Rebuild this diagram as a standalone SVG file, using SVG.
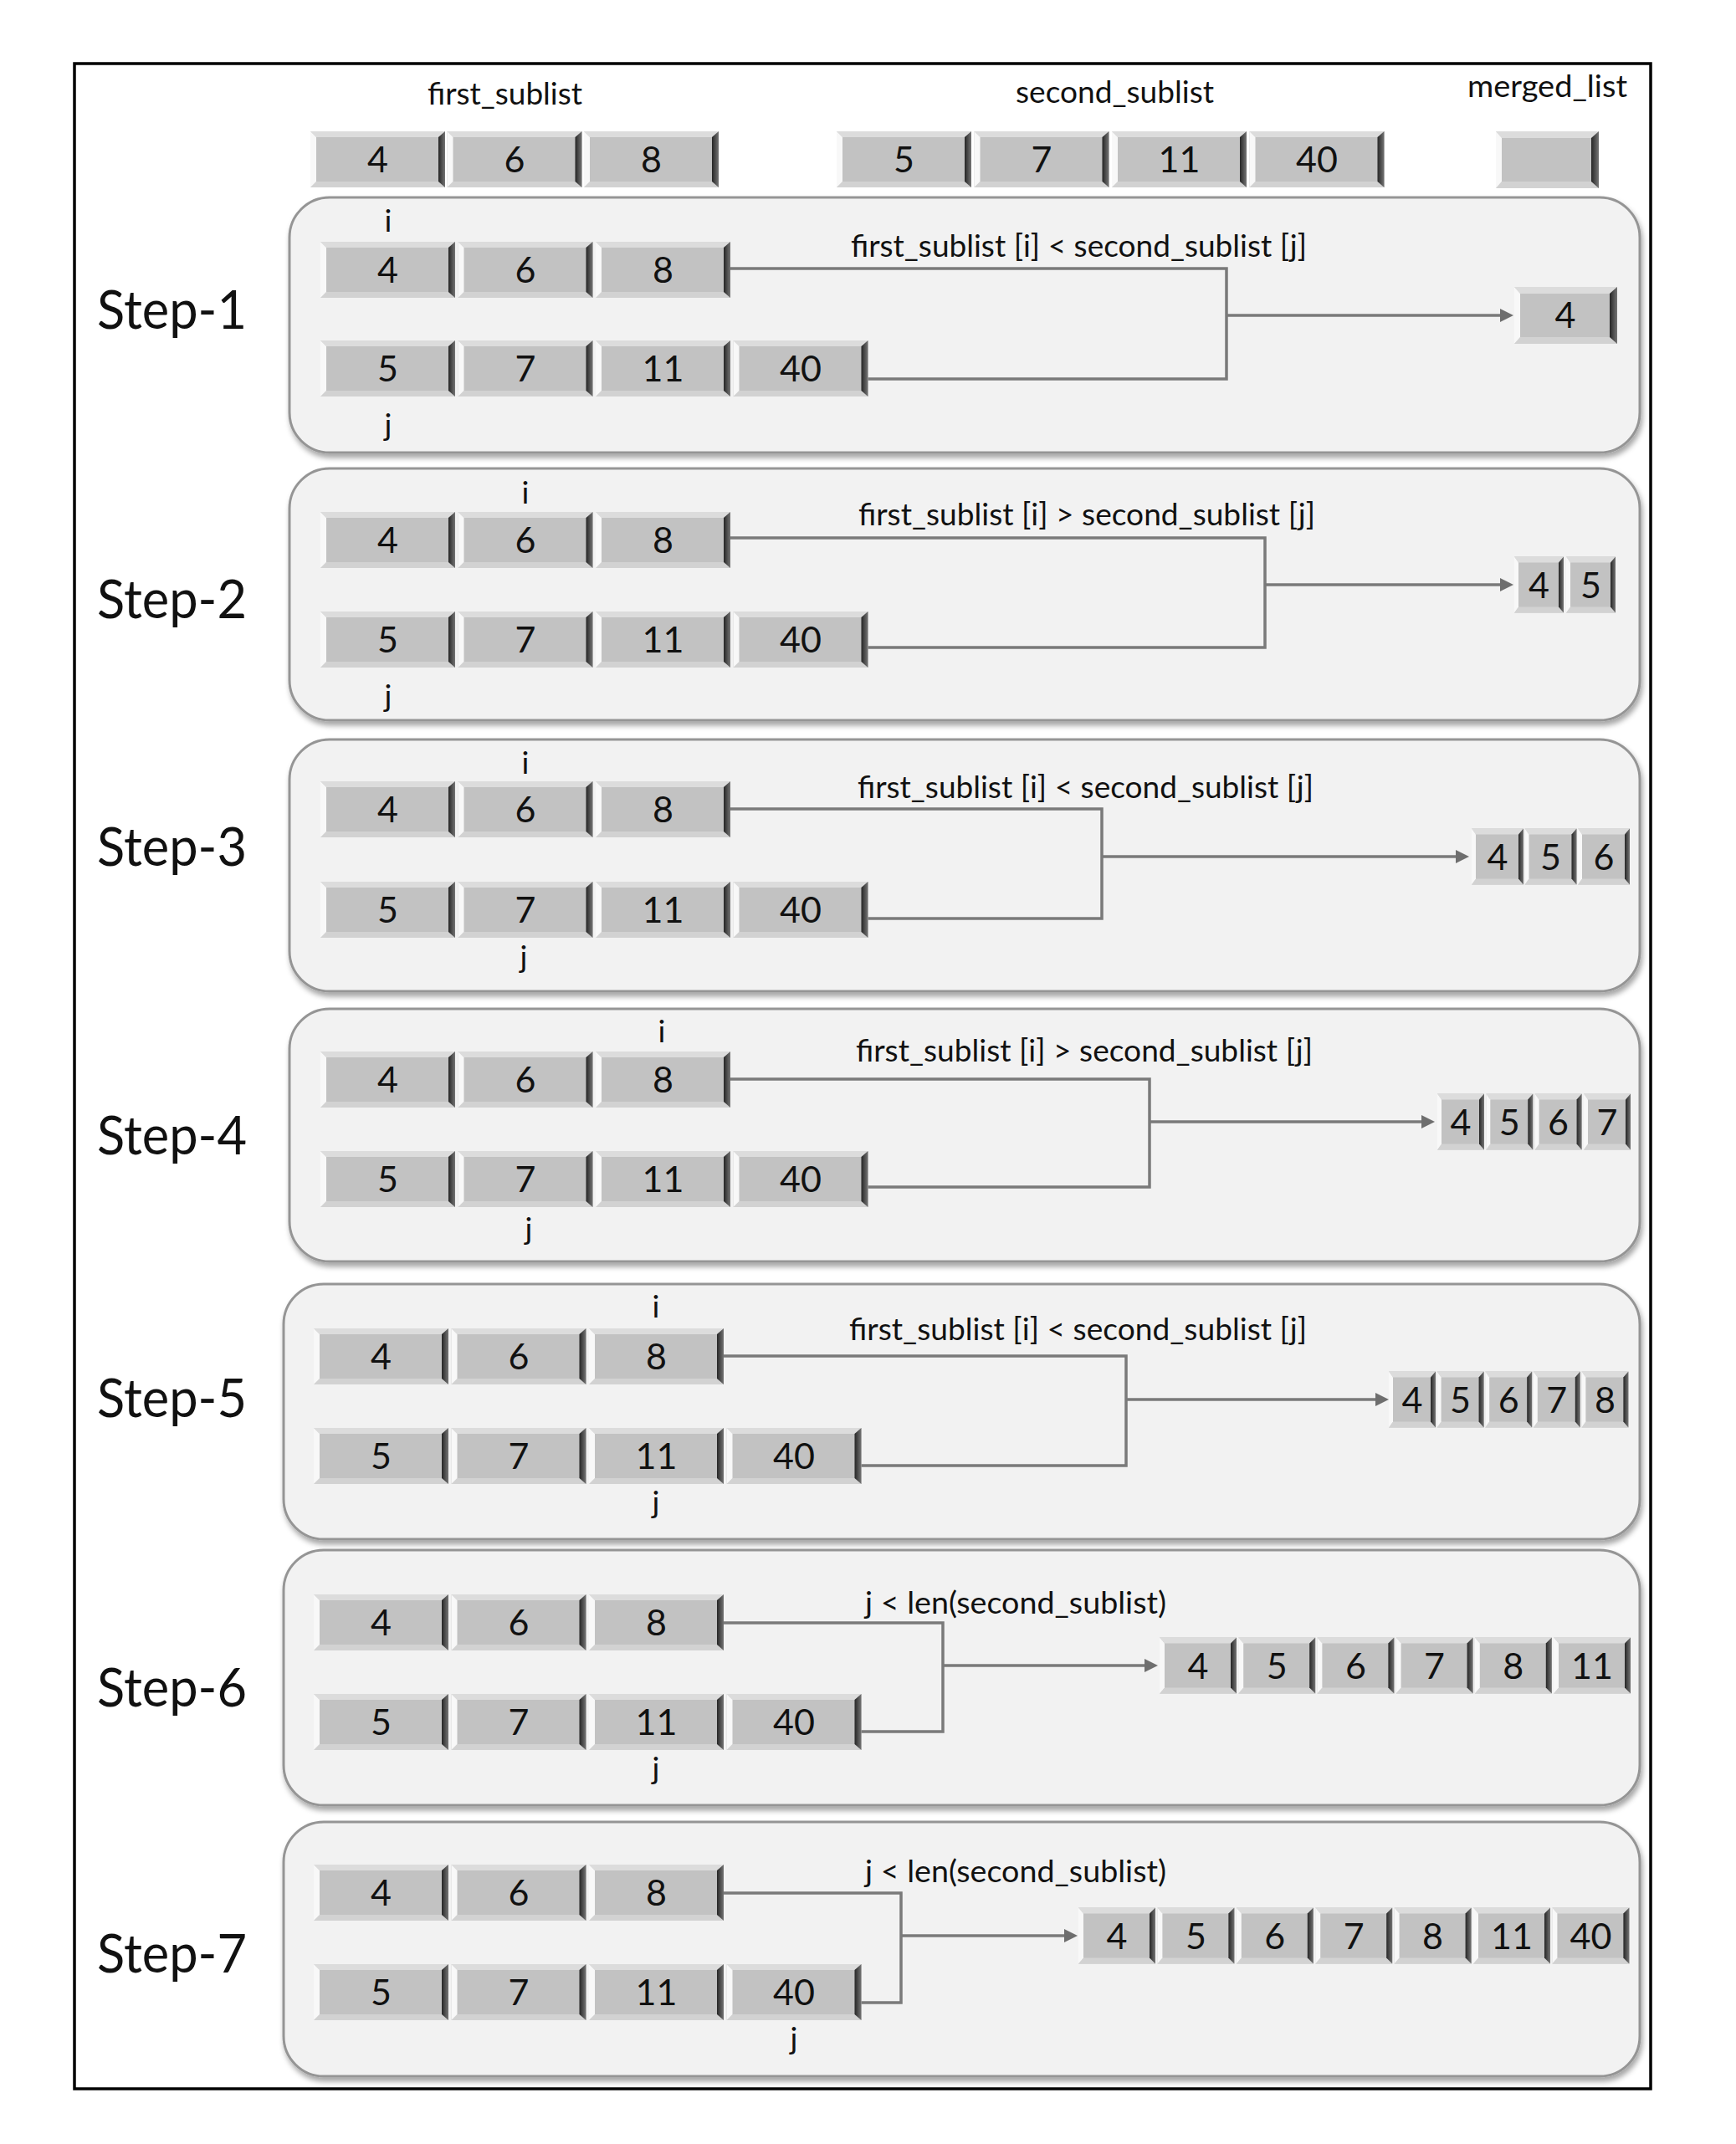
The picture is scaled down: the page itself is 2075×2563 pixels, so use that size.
<svg xmlns="http://www.w3.org/2000/svg" xmlns:xlink="http://www.w3.org/1999/xlink" width="2075" height="2563" viewBox="0 0 2075 2563">
<style>
text{font-family:Lato,"Open Sans","Liberation Sans",sans-serif;fill:#111}
.n{font-size:43px;text-anchor:middle}
.lbl{font-size:37px}
.step{font-size:64px}
.ij{font-size:37px;text-anchor:middle}
.face{fill:#c2c2c2}
.bt{fill:#dcdcdc}
.bb{fill:#d2d2d2}
.bl{fill:#f8f8f8}
.br{fill:url(#rg)}
.panel{fill:#f2f2f2;stroke:#959595;stroke-width:3;filter:url(#sh)}
.con{fill:none;stroke:#7a7a7a;stroke-width:3.5}
.arr{fill:none;stroke:#7a7a7a;stroke-width:3.5;marker-end:url(#ah)}
</style>
<defs>
<linearGradient id="rg" x1="0" y1="0" x2="1" y2="0">
<stop offset="0" stop-color="#262626"/><stop offset="1" stop-color="#747474"/>
</linearGradient>
<filter id="sh" x="-2%" y="-5%" width="104%" height="115%">
<feDropShadow dx="2" dy="5" stdDeviation="3" flood-color="#000" flood-opacity="0.35"/>
</filter>
<marker id="ah" viewBox="0 0 16 16" refX="10" refY="8" markerWidth="16" markerHeight="16" markerUnits="userSpaceOnUse" orient="auto">
<path d="M0,0 L16,8 L0,16 Z" fill="#6e6e6e"/>
</marker>
<g id="bx161"><rect class="face" width="161" height="67"/><polygon class="bt" points="0,0 161,0 153,7 7,7"/><polygon class="bb" points="0,67 161,67 153,60 7,60"/><polygon class="bl" points="0,0 7,7 7,60 0,67"/><polygon class="br" points="161,0 161,67 153,60 153,7"/></g>
<g id="bx123"><rect class="face" width="123" height="68"/><polygon class="bt" points="0,0 123,0 114,8 7,8"/><polygon class="bb" points="0,68 123,68 114,60 7,60"/><polygon class="bl" points="0,0 7,8 7,60 0,68"/><polygon class="br" points="123,0 123,68 114,60 114,8"/></g>
<g id="bx59"><rect class="face" width="59" height="67"/><polygon class="bt" points="0,0 59,0 53,7 5,7"/><polygon class="bb" points="0,67 59,67 53,60 5,60"/><polygon class="bl" points="0,0 5,7 5,60 0,67"/><polygon class="br" points="59,0 59,67 53,60 53,7"/></g>
<g id="bx62"><rect class="face" width="62" height="67"/><polygon class="bt" points="0,0 62,0 56,7 5,7"/><polygon class="bb" points="0,67 62,67 56,60 5,60"/><polygon class="bl" points="0,0 5,7 5,60 0,67"/><polygon class="br" points="62,0 62,67 56,60 56,7"/></g>
<g id="bx56"><rect class="face" width="56" height="67"/><polygon class="bt" points="0,0 56,0 50,7 5,7"/><polygon class="bb" points="0,67 56,67 50,60 5,60"/><polygon class="bl" points="0,0 5,7 5,60 0,67"/><polygon class="br" points="56,0 56,67 50,60 50,7"/></g>
<g id="bx92"><rect class="face" width="92" height="67"/><polygon class="bt" points="0,0 92,0 85,7 6,7"/><polygon class="bb" points="0,67 92,67 85,60 6,60"/><polygon class="bl" points="0,0 6,7 6,60 0,67"/><polygon class="br" points="92,0 92,67 85,60 85,7"/></g>
</defs>
<rect width="2075" height="2563" fill="#ffffff"/>
<rect id="frame" x="89" y="76" width="1884" height="2421" fill="none" stroke="#000" stroke-width="3.5"/>

<g id="header">
<text class="lbl" x="511" y="125" textLength="185" lengthAdjust="spacingAndGlyphs">first_sublist</text>
<text class="lbl" x="1214" y="123" textLength="237" lengthAdjust="spacingAndGlyphs">second_sublist</text>
<text class="lbl" x="1754" y="116" textLength="191" lengthAdjust="spacingAndGlyphs">merged_list</text>
<g id="hdr-first">
<use href="#bx161" x="371" y="157"/><use href="#bx161" x="534.5" y="157"/><use href="#bx161" x="698" y="157"/>
<text class="n" x="451.5" y="206">4</text><text class="n" x="615" y="206">6</text><text class="n" x="778.5" y="206">8</text>
</g>
<g id="hdr-second">
<use href="#bx161" x="1000" y="157"/><use href="#bx161" x="1164.5" y="157"/><use href="#bx161" x="1329" y="157"/><use href="#bx161" x="1493.5" y="157"/>
<text class="n" x="1080.5" y="206">5</text><text class="n" x="1245" y="206">7</text><text class="n" x="1409.5" y="206">11</text><text class="n" x="1574" y="206">40</text>
</g>
<g id="hdr-merged"><use href="#bx123" x="1788" y="157"/></g>
</g>

<g id="step1">
<rect class="panel" x="346" y="236" width="1614" height="305" rx="48"/>
<text class="step" x="116" y="393" textLength="179" lengthAdjust="spacingAndGlyphs">Step-1</text>
<use href="#bx161" x="383" y="289"/><use href="#bx161" x="547.5" y="289"/><use href="#bx161" x="712" y="289"/>
<text class="n" x="463.5" y="338">4</text><text class="n" x="628" y="338">6</text><text class="n" x="792.5" y="338">8</text>
<use href="#bx161" x="383" y="407"/><use href="#bx161" x="547.5" y="407"/><use href="#bx161" x="712" y="407"/><use href="#bx161" x="876.5" y="407"/>
<text class="n" x="463.5" y="456">5</text><text class="n" x="628" y="456">7</text><text class="n" x="792.5" y="456">11</text><text class="n" x="957" y="456">40</text>
<text class="ij" x="464" y="277">i</text><text class="ij" x="464" y="521">j</text>
<text class="lbl" x="1017" y="307" textLength="545" lengthAdjust="spacingAndGlyphs">first_sublist [i] &lt; second_sublist [j]</text>
<use href="#bx123" x="1810" y="343"/>
<text class="n" x="1871" y="392">4</text>
</g>

<g id="step2">
<rect class="panel" x="346" y="560" width="1614" height="301" rx="48"/>
<text class="step" x="116" y="739" textLength="179" lengthAdjust="spacingAndGlyphs">Step-2</text>
<use href="#bx161" x="383" y="612"/><use href="#bx161" x="547.5" y="612"/><use href="#bx161" x="712" y="612"/>
<text class="n" x="463.5" y="661">4</text><text class="n" x="628" y="661">6</text><text class="n" x="792.5" y="661">8</text>
<use href="#bx161" x="383" y="731"/><use href="#bx161" x="547.5" y="731"/><use href="#bx161" x="712" y="731"/><use href="#bx161" x="876.5" y="731"/>
<text class="n" x="463.5" y="780">5</text><text class="n" x="628" y="780">7</text><text class="n" x="792.5" y="780">11</text><text class="n" x="957" y="780">40</text>
<text class="ij" x="628" y="602">i</text><text class="ij" x="464" y="845">j</text>
<text class="lbl" x="1026" y="628" textLength="546" lengthAdjust="spacingAndGlyphs">first_sublist [i] &gt; second_sublist [j]</text>
<use href="#bx59" x="1810" y="665.5"/><use href="#bx59" x="1872" y="665.5"/>
<text class="n" x="1839.5" y="714.5">4</text><text class="n" x="1901.5" y="714.5">5</text>
</g>

<g id="step3">
<rect class="panel" x="346" y="884" width="1614" height="301" rx="48"/>
<text class="step" x="116" y="1035" textLength="179" lengthAdjust="spacingAndGlyphs">Step-3</text>
<use href="#bx161" x="383" y="934"/><use href="#bx161" x="547.5" y="934"/><use href="#bx161" x="712" y="934"/>
<text class="n" x="463.5" y="983">4</text><text class="n" x="628" y="983">6</text><text class="n" x="792.5" y="983">8</text>
<use href="#bx161" x="383" y="1054"/><use href="#bx161" x="547.5" y="1054"/><use href="#bx161" x="712" y="1054"/><use href="#bx161" x="876.5" y="1054"/>
<text class="n" x="463.5" y="1103">5</text><text class="n" x="628" y="1103">7</text><text class="n" x="792.5" y="1103">11</text><text class="n" x="957" y="1103">40</text>
<text class="ij" x="628" y="925">i</text><text class="ij" x="626" y="1157">j</text>
<text class="lbl" x="1025" y="954" textLength="545" lengthAdjust="spacingAndGlyphs">first_sublist [i] &lt; second_sublist [j]</text>
<use href="#bx62" x="1759" y="990.5"/><use href="#bx62" x="1822.5" y="990.5"/><use href="#bx62" x="1886" y="990.5"/>
<text class="n" x="1790" y="1039.5">4</text><text class="n" x="1853.5" y="1039.5">5</text><text class="n" x="1917" y="1039.5">6</text>
</g>

<g id="step4">
<rect class="panel" x="346" y="1206" width="1614" height="302" rx="48"/>
<text class="step" x="116" y="1380" textLength="179" lengthAdjust="spacingAndGlyphs">Step-4</text>
<use href="#bx161" x="383" y="1257"/><use href="#bx161" x="547.5" y="1257"/><use href="#bx161" x="712" y="1257"/>
<text class="n" x="463.5" y="1306">4</text><text class="n" x="628" y="1306">6</text><text class="n" x="792.5" y="1306">8</text>
<use href="#bx161" x="383" y="1376"/><use href="#bx161" x="547.5" y="1376"/><use href="#bx161" x="712" y="1376"/><use href="#bx161" x="876.5" y="1376"/>
<text class="n" x="463.5" y="1425">5</text><text class="n" x="628" y="1425">7</text><text class="n" x="792.5" y="1425">11</text><text class="n" x="957" y="1425">40</text>
<text class="ij" x="791" y="1246">i</text><text class="ij" x="632" y="1482">j</text>
<text class="lbl" x="1023" y="1269" textLength="546" lengthAdjust="spacingAndGlyphs">first_sublist [i] &gt; second_sublist [j]</text>
<use href="#bx56" x="1718" y="1307.5"/><use href="#bx56" x="1776.3" y="1307.5"/><use href="#bx56" x="1834.6" y="1307.5"/><use href="#bx56" x="1893" y="1307.5"/>
<text class="n" x="1746" y="1356.5">4</text><text class="n" x="1804.3" y="1356.5">5</text><text class="n" x="1862.6" y="1356.5">6</text><text class="n" x="1921" y="1356.5">7</text>
</g>

<g id="step5">
<rect class="panel" x="339" y="1535" width="1621" height="305" rx="48"/>
<text class="step" x="116" y="1694" textLength="179" lengthAdjust="spacingAndGlyphs">Step-5</text>
<use href="#bx161" x="375" y="1588"/><use href="#bx161" x="539.5" y="1588"/><use href="#bx161" x="704" y="1588"/>
<text class="n" x="455.5" y="1637">4</text><text class="n" x="620" y="1637">6</text><text class="n" x="784.5" y="1637">8</text>
<use href="#bx161" x="375" y="1707"/><use href="#bx161" x="539.5" y="1707"/><use href="#bx161" x="704" y="1707"/><use href="#bx161" x="868.5" y="1707"/>
<text class="n" x="455.5" y="1756">5</text><text class="n" x="620" y="1756">7</text><text class="n" x="784.5" y="1756">11</text><text class="n" x="949" y="1756">40</text>
<text class="ij" x="784" y="1575">i</text><text class="ij" x="784" y="1809">j</text>
<text class="lbl" x="1015" y="1602" textLength="547" lengthAdjust="spacingAndGlyphs">first_sublist [i] &lt; second_sublist [j]</text>
<use href="#bx56" x="1660" y="1639.5"/><use href="#bx56" x="1717.6" y="1639.5"/><use href="#bx56" x="1775.2" y="1639.5"/><use href="#bx56" x="1832.8" y="1639.5"/><use href="#bx56" x="1890.4" y="1639.5"/>
<text class="n" x="1688" y="1688.5">4</text><text class="n" x="1745.6" y="1688.5">5</text><text class="n" x="1803.2" y="1688.5">6</text><text class="n" x="1860.8" y="1688.5">7</text><text class="n" x="1918.4" y="1688.5">8</text>
</g>

<g id="step6">
<rect class="panel" x="339" y="1853" width="1621" height="305" rx="48"/>
<text class="step" x="116" y="2040" textLength="179" lengthAdjust="spacingAndGlyphs">Step-6</text>
<use href="#bx161" x="375" y="1906"/><use href="#bx161" x="539.5" y="1906"/><use href="#bx161" x="704" y="1906"/>
<text class="n" x="455.5" y="1955">4</text><text class="n" x="620" y="1955">6</text><text class="n" x="784.5" y="1955">8</text>
<use href="#bx161" x="375" y="2025"/><use href="#bx161" x="539.5" y="2025"/><use href="#bx161" x="704" y="2025"/><use href="#bx161" x="868.5" y="2025"/>
<text class="n" x="455.5" y="2074">5</text><text class="n" x="620" y="2074">7</text><text class="n" x="784.5" y="2074">11</text><text class="n" x="949" y="2074">40</text>
<text class="ij" x="784" y="2127">j</text>
<text class="lbl" x="1034" y="1929" textLength="360" lengthAdjust="spacingAndGlyphs">j &lt; len(second_sublist)</text>
<use href="#bx92" x="1386" y="1957.5"/><use href="#bx92" x="1480.2" y="1957.5"/><use href="#bx92" x="1574.4" y="1957.5"/><use href="#bx92" x="1668.6" y="1957.5"/><use href="#bx92" x="1762.8" y="1957.5"/><use href="#bx92" x="1857" y="1957.5"/>
<text class="n" x="1432" y="2006.5">4</text><text class="n" x="1526.2" y="2006.5">5</text><text class="n" x="1620.4" y="2006.5">6</text><text class="n" x="1714.6" y="2006.5">7</text><text class="n" x="1808.8" y="2006.5">8</text><text class="n" x="1903" y="2006.5">11</text>
</g>

<g id="step7">
<rect class="panel" x="339" y="2178" width="1621" height="304" rx="48"/>
<text class="step" x="116" y="2358" textLength="179" lengthAdjust="spacingAndGlyphs">Step-7</text>
<use href="#bx161" x="375" y="2229"/><use href="#bx161" x="539.5" y="2229"/><use href="#bx161" x="704" y="2229"/>
<text class="n" x="455.5" y="2278">4</text><text class="n" x="620" y="2278">6</text><text class="n" x="784.5" y="2278">8</text>
<use href="#bx161" x="375" y="2348"/><use href="#bx161" x="539.5" y="2348"/><use href="#bx161" x="704" y="2348"/><use href="#bx161" x="868.5" y="2348"/>
<text class="n" x="455.5" y="2397">5</text><text class="n" x="620" y="2397">7</text><text class="n" x="784.5" y="2397">11</text><text class="n" x="949" y="2397">40</text>
<text class="ij" x="949" y="2450">j</text>
<text class="lbl" x="1034" y="2250" textLength="360" lengthAdjust="spacingAndGlyphs">j &lt; len(second_sublist)</text>
<use href="#bx92" x="1289" y="2280.5"/><use href="#bx92" x="1383.4" y="2280.5"/><use href="#bx92" x="1477.8" y="2280.5"/><use href="#bx92" x="1572.2" y="2280.5"/><use href="#bx92" x="1666.6" y="2280.5"/><use href="#bx92" x="1761" y="2280.5"/><use href="#bx92" x="1855.4" y="2280.5"/>
<text class="n" x="1335" y="2329.5">4</text><text class="n" x="1429.4" y="2329.5">5</text><text class="n" x="1523.8" y="2329.5">6</text><text class="n" x="1618.2" y="2329.5">7</text><text class="n" x="1712.6" y="2329.5">8</text><text class="n" x="1807" y="2329.5">11</text><text class="n" x="1901.4" y="2329.5">40</text>
</g>

<g id="connectors">
<path class="con" d="M873,321 H1466 V453 H1037.5"/>
<path class="arr" d="M1466,377 H1803"/>
<path class="con" d="M873,643 H1512 V774 H1037.5"/>
<path class="arr" d="M1512,699 H1803"/>
<path class="con" d="M873,967 H1317 V1098 H1037.5"/>
<path class="arr" d="M1317,1024 H1750"/>
<path class="con" d="M873,1290 H1374 V1419 H1037.5"/>
<path class="arr" d="M1374,1341 H1709"/>
<path class="con" d="M865,1621 H1346 V1752 H1029.5"/>
<path class="arr" d="M1346,1673 H1654"/>
<path class="con" d="M865,1940 H1127 V2070 H1029.5"/>
<path class="arr" d="M1127,1991 H1378"/>
<path class="con" d="M865,2263 H1077 V2394 H1029.5"/>
<path class="arr" d="M1077,2314 H1282"/>
</g>
</svg>
